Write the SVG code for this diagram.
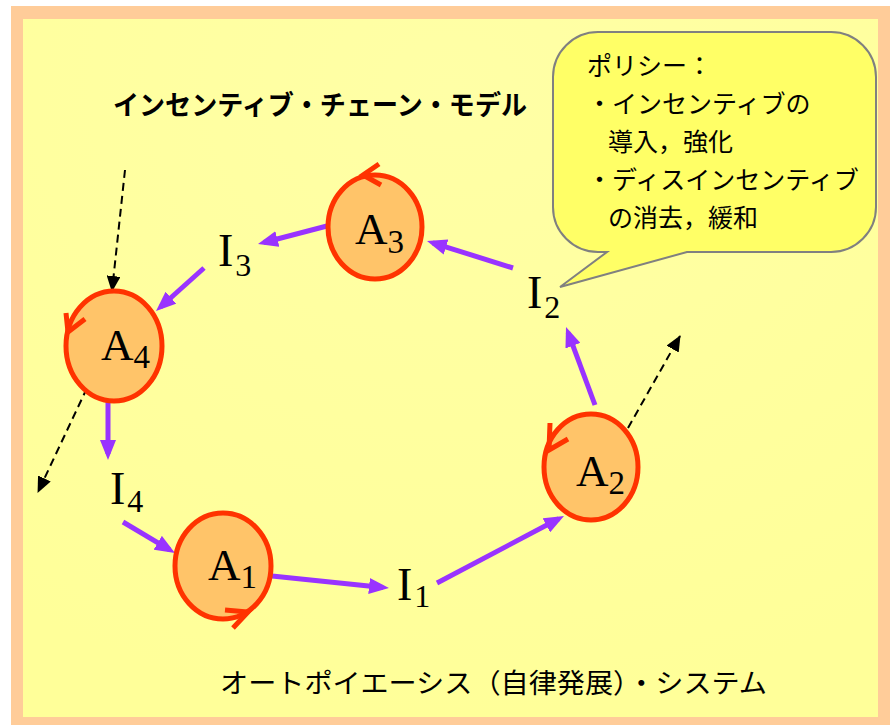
<svg xmlns="http://www.w3.org/2000/svg" width="894" height="725" viewBox="0 0 894 725">
<defs>
<style>
.node ellipse{fill:#FFC469;stroke:#FF3300;stroke-width:5}
.tick{fill:none;stroke:#FF3300;stroke-width:5;stroke-linejoin:miter}
.lbl{font-family:"Liberation Serif","DejaVu Serif",serif;fill:#000}
.flow{stroke:#9933FF;stroke-width:5;fill:none;marker-end:url(#pa)}
.ext{stroke:#000;stroke-width:2;fill:none;stroke-dasharray:8 5;marker-end:url(#ba)}
.jp{font-family:"Noto Sans CJK JP","Noto Sans",sans-serif;fill:#000}
</style>
<marker id="pa" viewBox="0 0 20 16" markerWidth="20" markerHeight="16" refX="14" refY="8" orient="auto" markerUnits="userSpaceOnUse">
<path d="M0,0 L20,8 L0,16 z" fill="#9933FF"/>
</marker>
<marker id="ba" viewBox="0 0 16 14" markerWidth="16" markerHeight="14" refX="15" refY="7" orient="auto" markerUnits="userSpaceOnUse">
<path d="M0,0 L16,7 L0,14 z" fill="#000"/>
</marker>
<radialGradient id="bg" cx="0.5" cy="0.1" r="0.9">
<stop offset="0" stop-color="#FFFFA6"/>
<stop offset="1" stop-color="#FFFF99"/>
</radialGradient>
</defs>
<rect x="11" y="6" width="879" height="725" fill="#FFCC99"/>
<rect x="23" y="19" width="855" height="698" fill="url(#bg)"/>

<g id="connectors">
<line class="flow" x1="327" y1="226" x2="263.8" y2="242.5"/>
<line class="flow" x1="204" y1="268" x2="160.5" y2="307"/>
<line class="flow" x1="108" y1="401" x2="108" y2="454"/>
<line class="flow" x1="123" y1="522" x2="169.8" y2="549.9"/>
<line class="flow" x1="272" y1="576" x2="383" y2="587.4"/>
<line class="flow" x1="437" y1="583" x2="558.7" y2="518.8"/>
<line class="flow" x1="595" y1="405" x2="568.1" y2="332.6"/>
<line class="flow" x1="513" y1="268" x2="432.7" y2="242.8"/>
<line class="ext" x1="125" y1="170" x2="112" y2="291"/>
<line class="ext" x1="87" y1="388" x2="38" y2="492"/>
<line class="ext" x1="628" y1="428" x2="680" y2="336"/>
</g>

<g id="A3" class="node">
<ellipse cx="375" cy="227" rx="47" ry="52"/>
<polyline class="tick" points="379,164 363,175 381,185"/>
<text class="lbl" x="355" y="244" font-size="45">A<tspan dy="9" font-size="33">3</tspan></text>
</g>
<g id="A2" class="node">
<ellipse cx="591" cy="467" rx="47" ry="53"/>
<polyline class="tick" points="550,423 549,450 568,439"/>
<text class="lbl" x="576" y="486" font-size="45">A<tspan dy="8" font-size="33">2</tspan></text>
</g>
<g id="A1" class="node">
<ellipse cx="223" cy="566" rx="48" ry="53"/>
<polyline class="tick" points="225,610 248,612 233,628"/>
<text class="lbl" x="208" y="580" font-size="45">A<tspan dy="8" font-size="33">1</tspan></text>
</g>
<g id="A4" class="node">
<ellipse cx="114" cy="346" rx="48" ry="55"/>
<polyline class="tick" points="66,313 68,332 85,319"/>
<text class="lbl" x="101" y="360" font-size="45">A<tspan dy="8" font-size="33">4</tspan></text>
</g>

<g id="I3"><text class="lbl" x="218" y="266" font-size="46">I<tspan dx="2" dy="10" font-size="32">3</tspan></text></g>
<g id="I2"><text class="lbl" x="527" y="308" font-size="46">I<tspan dx="2" dy="10" font-size="32">2</tspan></text></g>
<g id="I4"><text class="lbl" x="110" y="504" font-size="46">I<tspan dx="2" dy="8" font-size="32">4</tspan></text></g>
<g id="I1"><text class="lbl" x="397" y="600" font-size="46">I<tspan dx="2" dy="7" font-size="32">1</tspan></text></g>

<g id="title"><text class="jp" x="113" y="115" font-size="27" font-weight="bold" textLength="414" lengthAdjust="spacingAndGlyphs">インセンティブ・チェーン・モデル</text></g>

<g id="callout">
<path d="M598,32 H831 A45,45 0 0 1 876,77 V207 A45,45 0 0 1 831,252 H687 L560,287 L607,252 H598 A45,45 0 0 1 553,207 V77 A45,45 0 0 1 598,32 Z" fill="#FFFF66" stroke="#808080" stroke-width="2"/>
<text class="jp" font-size="25">
<tspan x="587" y="75">ポリシー：</tspan>
<tspan x="587" y="113">・インセンティブの</tspan>
<tspan x="608" y="151">導入，強化</tspan>
<tspan x="587" y="189">・ディスインセンティブ</tspan>
<tspan x="608" y="227">の消去，緩和</tspan>
</text>
</g>

<g id="footer"><text class="jp" x="220" y="693" font-size="27" textLength="547" lengthAdjust="spacingAndGlyphs">オートポイエーシス（自律発展）・システム</text></g>
</svg>
